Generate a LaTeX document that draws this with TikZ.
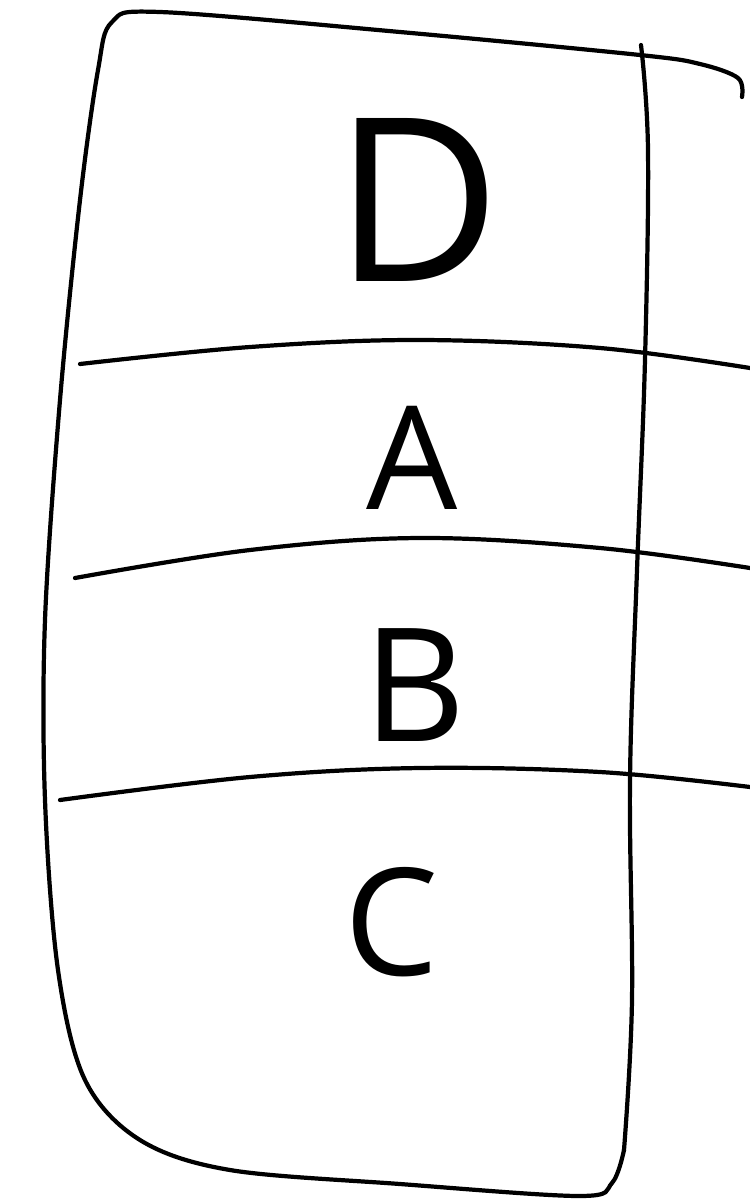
\documentclass[tikz,border=0pt]{standalone}
\usepackage{fontspec}
\setsansfont{Open Sans}
\begin{document}
\begin{tikzpicture}[x=0.02cm,y=-0.02cm,
  stroke/.style={line width=2.4pt,line cap=round,line join=round},
  letter/.style={font=\sffamily\fontsize{#1}{#1}\selectfont,inner sep=0pt}]
\useasboundingbox (0,0) rectangle (750,1204);
% outer outline
\draw[stroke] plot[smooth,tension=0.55] coordinates{
 (742,97) (738,78) (700,64) (640,55) (400,32) (160,12) (112,22) (98,70)
 (80,200) (60,400) (45,620) (45,800) (58,970) (85,1080) (140,1140)
 (230,1170) (400,1184) (580,1196) (612,1183) (624,1150)};
% right vertical
\draw[stroke] plot[smooth,tension=0.6] coordinates{
 (641,45) (648,150) (645,360) (637,570) (630,780) (632,1000) (624,1150)};
% horizontal dividers
\draw[stroke] plot[smooth,tension=0.6] coordinates{(80,364) (250,347) (420,340) (600,348) (750,368)};
\draw[stroke] plot[smooth,tension=0.6] coordinates{(75,578) (250,550) (420,538) (600,548) (750,568)};
\draw[stroke] plot[smooth,tension=0.6] coordinates{(60,800) (250,777) (420,768) (600,772) (750,787)};
% letters
\node[letter=130] (d) at (418,200) {D};
\node[letter=82] (a) at (412,458) {A};
\node[letter=90] (b) at (415,685) {B};
\node[letter=85] (c) at (392,922) {C};
\end{tikzpicture}
\end{document}
